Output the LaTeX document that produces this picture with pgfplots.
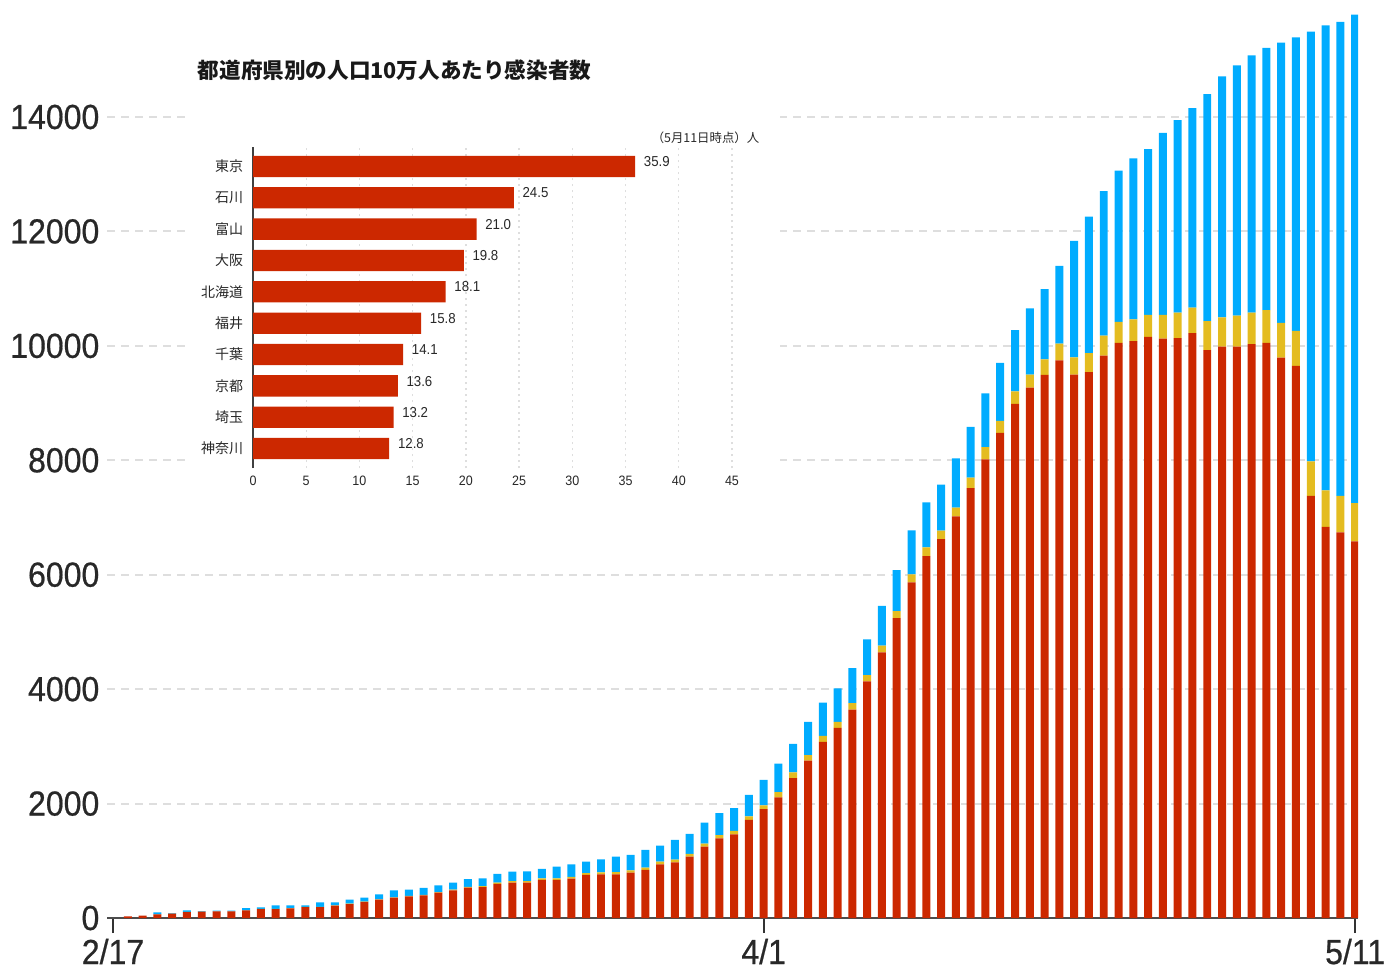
\documentclass[border=0pt]{standalone}
\usepackage{fontspec}
\usepackage{pgfplots}
\usepackage{pgfplotstable}
\pgfplotsset{compat=1.18}
\setmainfont{Liberation Sans}
\newfontfamily\numfont{Liberation Sans}[FakeStretch=0.92]
\newfontfamily\bignumfont{Liberation Sans}[FakeStretch=0.92,FakeBold=0.6]
\newfontfamily\cjk{Noto Sans CJK JP}

\definecolor{cred}{RGB}{204,40,0}
\definecolor{cyel}{RGB}{228,188,32}
\definecolor{cblue}{RGB}{0,172,255}
\definecolor{lbl}{RGB}{40,40,40}
\definecolor{gridc}{RGB}{222,222,222}

\pgfplotstableread{
d R Y B
1 29 0 0
2 41 0 0
3 64 1 34
4 76 1 10
5 105 1 28
6 111 1 10
7 117 1 10
8 117 1 12
9 134 1 40
10 157 1 29
11 157 1 64
12 169 2 51
13 192 3 27
14 192 4 78
15 216 4 54
16 245 5 71
17 280 5 71
18 321 6 87
19 356 6 122
20 379 6 111
21 397 7 121
22 443 9 120
23 484 12 122
24 531 15 135
25 540 19 135
26 595 25 150
27 618 25 168
28 620 25 170
29 665 28 165
30 665 29 204
31 688 31 220
32 752 33 201
33 764 35 228
34 764 36 273
35 793 40 270
36 840 42 308
37 939 45 282
38 974 47 344
39 1073 49 348
40 1248 52 368
41 1394 55 383
42 1464 57 398
43 1715 60 377
44 1902 65 448
45 2110 90 500
46 2446 100 496
47 2753 92 584
48 3078 105 583
49 3324 105 583
50 3643 111 614
51 4135 110 626
52 4644 117 694
53 5240 123 718
54 5866 140 769
55 6326 150 790
56 6621 150 802
57 7020 154 860
58 7512 184 890
59 8015 215 939
60 8480 210 1011
61 8988 217 1069
62 9268 229 1159
63 9491 274 1228
64 9746 292 1362
65 9497 300 2036
66 9542 331 2386
67 9828 350 2527
68 10051 369 2641
69 10083 382 2813
70 10159 382 2896
71 10127 414 3182
72 10134 445 3367
73 10223 445 3488
74 9924 509 3965
75 9988 509 4212
76 9988 541 4371
77 10032 547 4500
78 10051 573 4582
79 9796 605 4900
80 9650 611 5129
81 7378 605 7509
82 6837 637 8126
83 6742 636 8286
84 6583 668 8540
}\cases

\begin{document}
\begin{tikzpicture}
\path[use as bounding box] (0,0) rectangle (349.75pt,241.75pt);

\begin{axis}[
  at={(26.78pt,12.25pt)}, anchor=south west, scale only axis,
  width=312.73pt, height=228.86pt,
  ybar stacked, bar width=0.54,
  xmin=-0.4, xmax=84.2, ymin=0, ymax=16000,
  axis x line*=bottom, axis y line*=left,
  y axis line style={draw=none},
  x axis line style={line width=0.7pt, color=black!70},
  xtick={0,44,84}, xticklabels={2/17,4/1,5/11},
  ytick={0,2000,...,14000},
  scaled y ticks=false,
  ymajorgrids,
  grid style={gridc, line width=0.5pt, dash pattern=on 2pt off 1.5pt},
  tick align=outside, major tick length=3.75pt,
  xtick style={line width=0.5pt, color=black!80},
  ytick style={draw=none},
  ticklabel style={font=\bignumfont\fontsize{8.7}{9}\selectfont, text=lbl, inner sep=0pt},
  xticklabel style={yshift=-1.25pt},
  yticklabel style={xshift=2pt},
  /pgf/number format/assume math mode=true,
  /pgf/number format/1000 sep={},
]
\addplot[fill=cred, draw=none] table[x=d,y=R]{\cases};
\addplot[fill=cyel, draw=none] table[x=d,y=Y]{\cases};
\addplot[fill=cblue, draw=none] table[x=d,y=B]{\cases};
\end{axis}

\fill[white] (47.5pt,116.75pt) rectangle (195pt,231.75pt);

\node[anchor=west, font=\cjk\bfseries\fontsize{5.4}{6}\selectfont, text=black!90, inner sep=0pt] at (49.25pt,224.25pt) {都道府県別の人口10万人あたり感染者数};
\node[anchor=east, font=\cjk\fontsize{3.1}{4}\selectfont, text=lbl, inner sep=0pt] at (190pt,207.25pt) {（5月11日時点）人};

\begin{axis}[
  at={(63.25pt,124.75pt)}, anchor=south west, scale only axis,
  width=125.07pt, height=80.25pt,
  xbar, bar width=0.68,
  xmin=0, xmax=47, ymin=-0.62, ymax=9.62,
  axis x line*=bottom, axis y line*=left,
  x axis line style={draw=none},
  y axis line style={line width=0.4pt, color=black!75},
  xtick={0,5,...,45}, ytick={0,...,9},
  yticklabels={神奈川,埼玉,京都,千葉,福井,北海道,大阪,富山,石川,東京},
  xmajorgrids,
  grid style={gridc, line width=0.35pt, dash pattern=on 0.5pt off 1pt},
  tick style={draw=none},
  xticklabel style={font=\numfont\fontsize{3.4}{4}\selectfont, text=lbl, inner sep=0pt, yshift=-1.75pt},
  yticklabel style={font=\cjk\fontsize{3.5}{4}\selectfont, text=lbl, inner sep=0pt, xshift=2pt},
  /pgf/number format/assume math mode=true,
  point meta=x,
  nodes near coords={\pgfmathprintnumber[fixed,fixed zerofill,precision=1]{\pgfplotspointmeta}},
  nodes near coords style={font=\numfont\fontsize{3.6}{4}\selectfont, text=lbl, anchor=west, inner sep=0pt, xshift=2pt, yshift=1.2pt},
]
\addplot[fill=cred, draw=none] coordinates {(12.8,0) (13.2,1) (13.6,2) (14.1,3) (15.8,4) (18.1,5) (19.8,6) (21.0,7) (24.5,8) (35.9,9)};
\end{axis}
\end{tikzpicture}
\end{document}
